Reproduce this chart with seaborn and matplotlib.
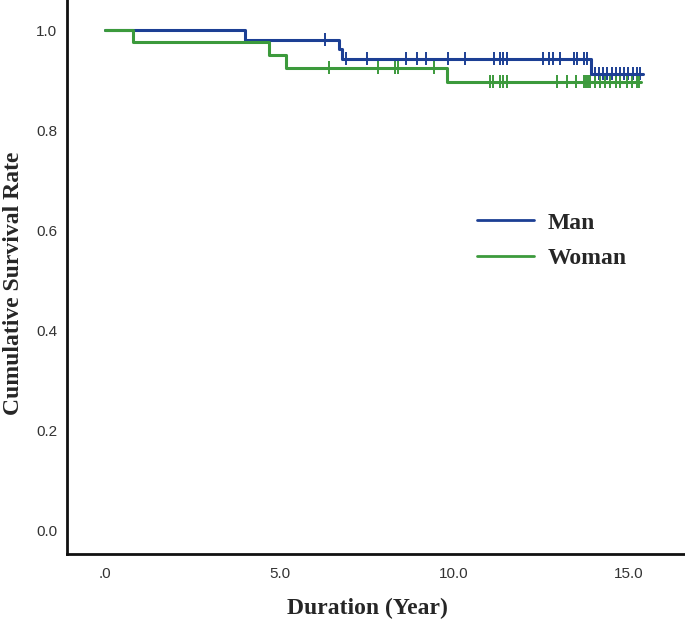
import numpy as np
import pandas as pd
import matplotlib
matplotlib.use("Agg")
import matplotlib.pyplot as plt
import seaborn as sns

# ---- data ----
groups = ["Man", "Woman"]
man_times = [0.0, 4.0, 6.7, 6.8, 13.93, 15.42]
man_surv = [1.0, 0.981, 0.962, 0.943, 0.913, 0.913]
man_censor = [6.3, 6.92, 7.52, 8.62, 8.93, 9.21, 9.84, 10.33, 11.15, 11.32, 11.41,
              11.51, 12.54, 12.73, 12.85, 13.04, 13.44, 13.53, 13.72, 13.82, 14.04,
              14.16, 14.28, 14.39, 14.52, 14.64, 14.76, 14.87, 15.0, 15.14, 15.24, 15.33]
woman_times = [0.0, 0.79, 4.71, 5.2, 9.79, 15.37]
woman_surv = [1.0, 0.977, 0.951, 0.925, 0.897, 0.897]
woman_censor = [6.43, 7.81, 8.31, 8.40, 9.42, 11.03, 11.13, 11.32, 11.41, 11.51, 12.94,
                13.23, 13.51, 13.72, 13.78, 13.85, 13.91, 14.04, 14.18, 14.33, 14.47,
                14.64, 14.76, 14.95, 15.09, 15.24, 15.31]
x_ticks = [0, 5, 10, 15]
x_ticklabels = [".0", "5.0", "10.0", "15.0"]
y_ticks = [0.0, 0.2, 0.4, 0.6, 0.8, 1.0]
y_ticklabels = ["0.0", "0.2", "0.4", "0.6", "0.8", "1.0"]

colors = {"Man": "#1c3f94", "Woman": "#3c9a3c"}

def step_value(times, surv, t):
    idx = np.searchsorted(np.asarray(times), t, side="right") - 1
    return np.asarray(surv)[idx]

curve_df = pd.concat([
    pd.DataFrame({"time": man_times, "surv": man_surv, "group": "Man"}),
    pd.DataFrame({"time": woman_times, "surv": woman_surv, "group": "Woman"}),
], ignore_index=True)
cens_df = pd.concat([
    pd.DataFrame({"time": man_censor, "surv": step_value(man_times, man_surv, man_censor), "group": "Man"}),
    pd.DataFrame({"time": woman_censor, "surv": step_value(woman_times, woman_surv, woman_censor), "group": "Woman"}),
], ignore_index=True)

sns.set_theme(style="white")
plt.rcParams["font.family"] = ["Liberation Sans", "DejaVu Sans"]

fig = plt.figure(figsize=(6.85, 6.2), dpi=100)
ax = fig.add_axes([67/685, 1 - 554/620, 1 - 67/685, 554/620])

sns.lineplot(data=curve_df, x="time", y="surv", hue="group", hue_order=groups,
             palette=colors, drawstyle="steps-post", linewidth=2.2, ax=ax,
             estimator=None, sort=False, legend=True)
sns.scatterplot(data=cens_df, x="time", y="surv", hue="group", hue_order=groups,
                palette=colors, marker="|", s=75, linewidth=1.4, ax=ax, legend=False)

ax.set_xlim(-1.089, 16.62)
ax.set_ylim(-0.048, 1.06)
ax.set_xticks(x_ticks)
ax.set_xticklabels(x_ticklabels)
ax.set_yticks(y_ticks)
ax.set_yticklabels(y_ticklabels)
ax.tick_params(axis="both", length=0, labelsize=11, colors="#333333")
ax.tick_params(axis="x", pad=9)
ax.tick_params(axis="y", pad=7)

for side in ["top", "right"]:
    ax.spines[side].set_visible(False)
for side in ["left", "bottom"]:
    ax.spines[side].set_color("#111111")
    ax.spines[side].set_linewidth(2.0)

serif_bold = dict(family=["Liberation Serif", "DejaVu Serif"], weight="bold", size=17)
ax.set_xlabel("Duration (Year)", fontdict=serif_bold)
ax.xaxis.set_label_coords(0.4854, -0.0794)
ax.set_ylabel("Cumulative Survival Rate", fontdict=serif_bold)
ax.yaxis.set_label_coords(-0.070, 0.489)

handles, labels = ax.get_legend_handles_labels()
leg = ax.legend(handles, labels, loc="upper left",
                bbox_to_anchor=(477/685, 1 - 212/620), bbox_transform=fig.transFigure,
                frameon=False, borderpad=0, borderaxespad=0, handlelength=2.4,
                handletextpad=0.58, labelspacing=0.6,
                prop={"family": ["Liberation Serif", "DejaVu Serif"], "weight": "bold", "size": 17})
for line in leg.get_lines():
    line.set_linewidth(2.0)

fig.savefig("out.png", dpi=100)
